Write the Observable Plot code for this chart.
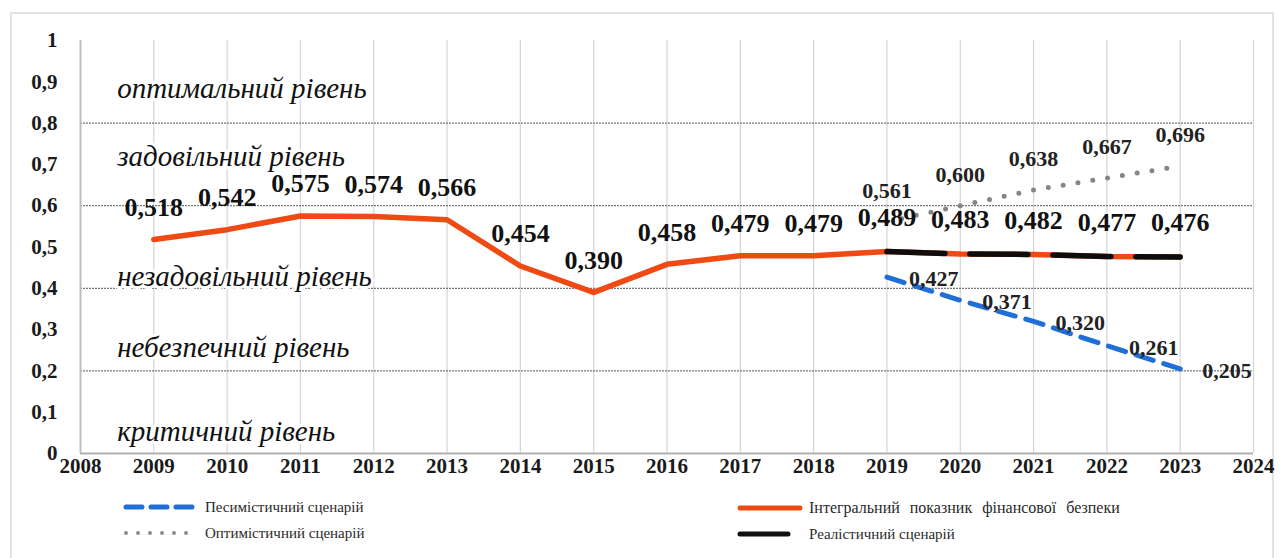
<!DOCTYPE html>
<html>
<head>
<meta charset="utf-8">
<script src="https://cdn.jsdelivr.net/npm/d3@7"></script>
<script src="https://cdn.jsdelivr.net/npm/@observablehq/plot@0.6"></script>
<style>
  html, body { margin: 0; padding: 0; background: #fff; }
  #wrap { position: relative; width: 1284px; height: 558px; overflow: hidden; font-family: "Liberation Serif", serif; }
  #frame { position: absolute; left: 10px; top: 12px; width: 1264px; height: 600px; border: 2px solid #e2e2e2; box-sizing: border-box; }
  #chart { position: absolute; left: 0; top: 0; }
  .leg { position: absolute; display: flex; align-items: center; font-size: 15px; color: #2a2a2a; white-space: nowrap; }
  .leg svg { display: block; margin-right: 5px; }
</style>
</head>
<body>
<div id="wrap">
  <div id="frame"></div>
  <div id="chart"></div>
  <div class="leg" style="left:122px; top:497px;"><svg width="78" height="20"><line x1="4" y1="10" x2="74" y2="10" stroke="#1f6fd6" stroke-width="5" stroke-dasharray="16,9" stroke-linecap="round"/></svg>Песимістичний сценарій</div>
  <div class="leg" style="left:122px; top:523px;"><svg width="78" height="20"><line x1="4" y1="10" x2="74" y2="10" stroke="#8a8a8a" stroke-width="4" stroke-dasharray="0,12" stroke-linecap="round"/></svg>Оптимістичний сценарій</div>
  <div class="leg" style="left:736px; top:498px; font-size:16px; word-spacing:6px;"><svg width="68" height="20"><line x1="4" y1="10" x2="64" y2="10" stroke="#f04a14" stroke-width="5" stroke-linecap="round"/></svg>Інтегральний показник фінансової безпеки</div>
  <div class="leg" style="left:736px; top:524px;"><svg width="68" height="20"><line x1="4" y1="10" x2="52" y2="10" stroke="#111" stroke-width="5" stroke-linecap="round"/></svg>Реалістичний сценарій</div>
</div>
<script>
// ---- data ----
const histYears = [2009, 2010, 2011, 2012, 2013, 2014, 2015, 2016, 2017, 2018, 2019];
const integral = [0.518, 0.542, 0.575, 0.574, 0.566, 0.454, 0.390, 0.458, 0.479, 0.479, 0.489];
const scenarioYears = [2019, 2020, 2021, 2022, 2023];
const pessimistic = [0.427, 0.371, 0.320, 0.261, 0.205];
const optimistic = [0.561, 0.600, 0.638, 0.667, 0.696];
const realistic = [0.489, 0.483, 0.482, 0.477, 0.476];
const xTicks = [2008, 2009, 2010, 2011, 2012, 2013, 2014, 2015, 2016, 2017, 2018, 2019, 2020, 2021, 2022, 2023, 2024];
const yTicks = [0, 0.1, 0.2, 0.3, 0.4, 0.5, 0.6, 0.7, 0.8, 0.9, 1];
const levelBounds = [0.2, 0.4, 0.6, 0.8];
const zoneNames = ["оптимальний рівень", "задовільний рівень", "незадовільний рівень", "небезпечний рівень", "критичний рівень"];
const zoneLevels = [0.883, 0.719, 0.429, 0.257, 0.053];

const zip = (xs, ys) => xs.map((x, i) => ({x, y: ys[i]}));
const histData = zip(histYears, integral);
const pesData = zip(scenarioYears, pessimistic);
const optData = zip(scenarioYears, optimistic);
const realData = zip(scenarioYears, realistic);
const zoneData = zoneNames.map((t, i) => ({t, y: zoneLevels[i]}));
const fmt = v => v.toFixed(3).replace(".", ",");
const fmtY = v => String(+v.toFixed(1)).replace(".", ",");

const serif = "Liberation Serif, Times New Roman, serif";

const chart = Plot.plot({
  width: 1284,
  height: 490,
  marginLeft: 80,
  marginRight: 31,
  marginTop: 40,
  marginBottom: 37,
  style: {background: "transparent", fontFamily: serif, fontSize: "21px"},
  x: {domain: [2008, 2024], label: null},
  y: {domain: [0, 1], label: null},
  marks: [
    Plot.gridX(xTicks.slice(1), {stroke: "#d4d4d4", strokeOpacity: 1, strokeWidth: 1.2}),
    Plot.ruleY(levelBounds, {stroke: "#555", strokeWidth: 1, strokeDasharray: "2,1"}),
    Plot.ruleX([2008], {stroke: "#bdbdbd", strokeWidth: 2}),
    Plot.ruleY([0], {stroke: "#b0b0b0", strokeWidth: 2}),
    Plot.axisX({ticks: xTicks, label: null, tickFormat: d => String(d), tickSize: 0, tickPadding: 5, fontWeight: "bold", fill: "#1a1a1a"}),
    Plot.axisY({ticks: yTicks, label: null, tickFormat: fmtY, tickSize: 0, tickPadding: 23, fontWeight: "bold", fill: "#1a1a1a"}),
    Plot.text(zoneData, {x: 2008.5, y: "y", text: "t", textAnchor: "start", fontSize: 29, fontStyle: "italic", fontFamily: serif, fill: "#111", stroke: "white", strokeWidth: 6, paintOrder: "stroke"}),
    Plot.line(optData, {x: "x", y: "y", stroke: "#858585", strokeWidth: 5, strokeDasharray: "0,15", strokeLinecap: "round"}),
    Plot.line(histData, {x: "x", y: "y", stroke: "#f04a14", strokeWidth: 5.5, strokeLinejoin: "round"}),
    Plot.line(realData, {x: "x", y: "y", stroke: "#f04a14", strokeWidth: 5.5}),
    Plot.line(realData, {x: "x", y: "y", stroke: "#0d0d0d", strokeWidth: 5.5, strokeDasharray: "58,25"}),
    Plot.line(pesData, {x: "x", y: "y", stroke: "#1f6fd6", strokeWidth: 5, strokeDasharray: "18,11", strokeLinecap: "round"}),
    Plot.text(histData.slice(0, -1), {x: "x", y: "y", text: d => fmt(d.y), dy: -32, fontSize: 26, fontWeight: "bold", fontFamily: serif, fill: "#111"}),
    Plot.text(realData, {x: "x", y: "y", text: d => fmt(d.y), dy: -34, fontSize: 26, fontWeight: "bold", fontFamily: serif, fill: "#111"}),
    Plot.text(optData, {x: "x", y: "y", text: d => fmt(d.y), dy: -31, fontSize: 22, fontWeight: "bold", fontFamily: serif, fill: "#222"}),
    Plot.text(pesData, {x: "x", y: "y", text: d => fmt(d.y), dx: 22, dy: 2, textAnchor: "start", fontSize: 22, fontWeight: "bold", fontFamily: serif, fill: "#222"})
  ]
});
document.getElementById("chart").appendChild(chart);
</script>
</body>
</html>
